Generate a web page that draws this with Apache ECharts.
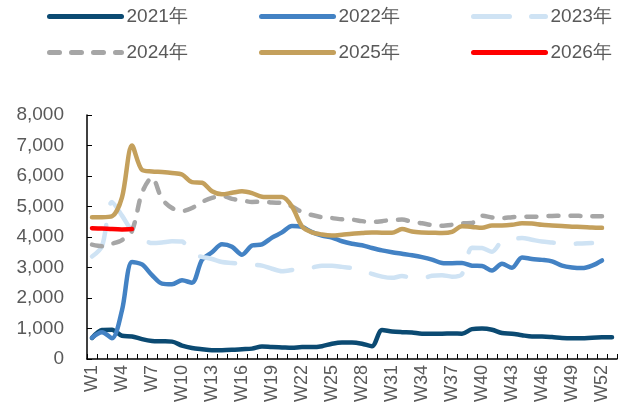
<!DOCTYPE html>
<html>
<head>
<meta charset="utf-8">
<script src="https://cdn.jsdelivr.net/npm/echarts@6/dist/echarts.min.js"></script>
<style>
  html, body { margin: 0; padding: 0; background: #fff; }
  #chart { width: 628px; height: 412px; }
</style>
</head>
<body>
<div id="chart"></div>
<script>
// 周次
var weeks = ["W1","W2","W3","W4","W5","W6","W7","W8","W9","W10",
  "W11","W12","W13","W14","W15","W16","W17","W18","W19","W20",
  "W21","W22","W23","W24","W25","W26","W27","W28","W29","W30",
  "W31","W32","W33","W34","W35","W36","W37","W38","W39","W40",
  "W41","W42","W43","W44","W45","W46","W47","W48","W49","W50",
  "W51","W52","W53"];

var yTicks = [0, 1000, 2000, 3000, 4000, 5000, 6000, 7000, 8000];

var s2021 = [690,950,960,760,740,650,590,580,570,440,
  360,320,290,290,300,320,340,410,390,380,
  370,390,390,420,500,540,540,500,420,950,
  900,880,870,830,830,830,840,830,980,1000,
  960,850,830,780,740,740,720,690,680,680,
  700,710,710];
var s2022 = [700,880,680,1600,3180,3100,2750,2470,2450,2580,
  2500,3250,3500,3760,3680,3420,3720,3760,3980,4150,
  4360,4330,4160,4050,3980,3860,3780,3730,3640,3560,
  3500,3450,3400,3340,3260,3150,3140,3150,3060,3050,
  2900,3120,2990,3330,3280,3250,3200,3060,3000,2980,
  3060,3230];
var s2023 = [3360,3700,5150,4700,4200,3950,3800,3820,3860,3850,
  3440,3350,3280,3180,3150,3120,3100,3060,2960,2880,
  2920,2980,3000,3060,3060,3020,2980,2930,2790,2700,
  2660,2720,2660,2650,2730,2750,2700,2780,3650,3640,
  3520,3870,3920,3970,3910,3850,3820,3790,3780,3790,
  3800];
var s2024 = [3750,3700,3780,3900,4200,5450,5950,5250,4950,4850,
  4950,5150,5280,5350,5250,5200,5150,5160,5130,5120,
  5000,4820,4720,4650,4620,4580,4570,4520,4490,4520,
  4560,4570,4500,4450,4390,4370,4400,4450,4460,4700,
  4640,4620,4650,4670,4660,4680,4690,4700,4700,4690,
  4680,4680];
var s2025 = [4650,4650,4680,5300,7000,6200,6150,6130,6100,6050,
  5800,5780,5500,5400,5450,5500,5440,5320,5310,5310,
  5000,4350,4150,4080,4050,4075,4110,4130,4150,4140,
  4140,4260,4180,4150,4140,4130,4170,4350,4330,4300,
  4380,4380,4400,4450,4440,4400,4380,4360,4340,4330,
  4310,4300];
var s2026 = [4290,4280,4260,4250,4260];

var names = ["2021年", "2022年", "2023年", "2024年", "2025年", "2026年"];
var colors = ["#0b4a72", "#4382c4", "#cfe3f4", "#a6a6a6", "#c4a05c", "#ff0000"];
var dashes = ["solid", "solid", [36, 22], [10, 12], "solid", "solid"];
var values = [s2021, s2022, s2023, s2024, s2025, s2026];

var font = "Liberation Sans, Arial, sans-serif";

// 图例:两行三列,只画线不画圆点
var legendPos = [[47, 7], [259, 7], [471, 7], [47, 43], [259, 43], [471, 43]];
var legends = names.map(function (n, i) {
  return {
    data: [n],
    left: legendPos[i][0],
    top: legendPos[i][1],
    itemWidth: 72,
    itemHeight: 14,
    itemGap: 0,
    padding: 0,
    itemStyle: { opacity: 0 },
    lineStyle: { width: 5, cap: "round" },
    textStyle: { fontSize: 19, color: "#595959", fontFamily: font }
  };
});

var series = names.map(function (n, i) {
  return {
    name: n,
    type: "line",
    data: values[i],
    smooth: 0.3,
    symbol: "none",
    color: colors[i],
    lineStyle: { color: colors[i], width: 4.5, type: dashes[i], cap: "round", join: "round" }
  };
});

var chart = echarts.init(document.getElementById("chart"));
chart.setOption({
  animation: false,
  legend: legends,
  grid: { left: 87, right: 11, top: 115, bottom: 53 },
  xAxis: {
    type: "category",
    data: weeks,
    boundaryGap: true,
    axisLine: { lineStyle: { color: "#000", width: 1.5 } },
    axisTick: { show: true, inside: true, length: 5, interval: 0, lineStyle: { color: "#000" } },
    axisLabel: { interval: 2, rotate: 90, fontSize: 18, color: "#595959", fontFamily: font, margin: 6 },
    splitLine: { show: false }
  },
  yAxis: {
    type: "value",
    min: yTicks[0],
    max: yTicks[yTicks.length - 1],
    interval: 1000,
    axisLine: { show: true, lineStyle: { color: "#000", width: 1.5 } },
    axisTick: { show: true, inside: true, length: 5, lineStyle: { color: "#000" } },
    axisLabel: {
      fontSize: 19, color: "#595959", fontFamily: font, margin: 23,
      formatter: function (v) { return v.toLocaleString("en-US"); }
    },
    splitLine: { show: false }
  },
  series: series
});
</script>
</body>
</html>
